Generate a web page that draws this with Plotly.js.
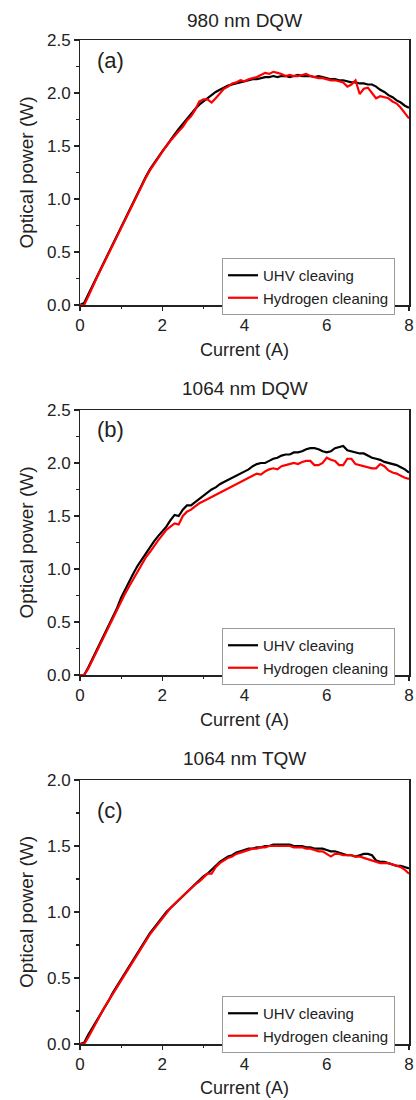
<!DOCTYPE html>
<html><head><meta charset="utf-8">
<script src="https://cdn.plot.ly/plotly-3.0.1.min.js"></script>
<style>html,body{margin:0;padding:0;background:#fff}#chart{width:416px;height:1100px}</style>
</head><body><div id="chart"></div>
<script>
const current = [0.0,0.1,0.2,0.3,0.4,0.5,0.6,0.7,0.8,0.9,1.0,1.1,1.2,1.3,1.4,1.5,1.6,1.7,1.8,1.9,
2.0,2.1,2.2,2.3,2.4,2.5,2.6,2.7,2.8,2.9,3.0,3.1,3.2,3.3,3.4,3.5,3.6,3.7,3.8,3.9,
4.0,4.1,4.2,4.3,4.4,4.5,4.6,4.7,4.8,4.9,5.0,5.1,5.2,5.3,5.4,5.5,5.6,5.7,5.8,5.9,
6.0,6.1,6.2,6.3,6.4,6.5,6.6,6.7,6.8,6.9,7.0,7.1,7.2,7.3,7.4,7.5,7.6,7.7,7.8,7.9,8.0];

const panelTitles = ['980 nm DQW', '1064 nm DQW', '1064 nm TQW'];
const panelLabels = ['(a)', '(b)', '(c)'];
const seriesNames = ['UHV cleaving', 'Hydrogen cleaning'];
const xTitle = 'Current (A)';
const yTitle = 'Optical power (W)';
const yMax = [2.5, 2.5, 2.0];

// (a) 980 nm DQW
const uhvA = [0.00,0.02,0.10,0.18,0.26,0.34,0.42,0.50,0.58,0.66,0.74,0.82,0.90,0.98,1.06,1.13,1.21,1.28,1.34,1.40,
1.45,1.50,1.56,1.61,1.66,1.71,1.76,1.80,1.85,1.89,1.92,1.95,1.98,2.01,2.03,2.05,2.07,2.08,2.09,2.10,
2.11,2.12,2.13,2.13,2.14,2.15,2.15,2.16,2.15,2.16,2.16,2.15,2.16,2.17,2.16,2.16,2.16,2.15,2.16,2.15,
2.14,2.13,2.13,2.12,2.12,2.11,2.10,2.10,2.09,2.09,2.08,2.08,2.06,2.03,2.01,1.98,1.96,1.93,1.91,1.88,1.86];
const h2A = [0.00,0.00,0.08,0.17,0.25,0.33,0.41,0.49,0.57,0.65,0.73,0.81,0.89,0.97,1.05,1.12,1.20,1.27,1.33,1.39,
1.45,1.50,1.55,1.60,1.64,1.68,1.74,1.78,1.84,1.92,1.94,1.94,1.91,1.95,2.00,2.04,2.06,2.09,2.10,2.12,
2.11,2.13,2.14,2.15,2.17,2.19,2.18,2.20,2.19,2.18,2.16,2.17,2.16,2.16,2.17,2.18,2.16,2.15,2.14,2.14,
2.13,2.12,2.12,2.11,2.10,2.06,2.08,2.12,1.99,2.04,2.05,2.00,1.95,1.97,1.96,1.95,1.92,1.90,1.86,1.81,1.76];

// (b) 1064 nm DQW
const uhvB = [0.00,0.00,0.07,0.15,0.23,0.31,0.39,0.47,0.55,0.63,0.73,0.81,0.89,0.96,1.03,1.09,1.15,1.21,1.26,1.31,
1.35,1.40,1.46,1.51,1.50,1.56,1.60,1.60,1.63,1.66,1.69,1.72,1.75,1.77,1.80,1.82,1.84,1.86,1.88,1.90,
1.92,1.94,1.97,1.99,2.00,2.00,2.02,2.04,2.05,2.07,2.08,2.08,2.10,2.10,2.11,2.13,2.14,2.14,2.13,2.11,
2.10,2.11,2.14,2.15,2.16,2.12,2.11,2.10,2.09,2.09,2.07,2.05,2.04,2.03,2.01,2.00,1.99,1.98,1.96,1.94,1.91];
const h2B = [0.00,0.00,0.06,0.14,0.22,0.30,0.38,0.46,0.54,0.61,0.69,0.77,0.84,0.91,0.98,1.04,1.11,1.16,1.22,1.27,
1.32,1.37,1.40,1.43,1.42,1.50,1.54,1.56,1.59,1.62,1.64,1.66,1.68,1.70,1.72,1.74,1.76,1.78,1.80,1.82,
1.84,1.86,1.88,1.90,1.89,1.92,1.94,1.95,1.94,1.97,1.98,1.99,2.00,1.99,2.01,2.02,2.02,1.98,1.98,2.00,
2.05,2.03,2.02,1.98,1.98,2.04,2.04,1.99,1.98,1.97,1.96,1.95,1.95,1.99,1.97,1.93,1.91,1.90,1.88,1.86,1.85];

// (c) 1064 nm TQW
const uhvC = [0.00,0.01,0.07,0.12,0.18,0.23,0.28,0.33,0.39,0.44,0.49,0.54,0.59,0.64,0.70,0.75,0.80,0.84,0.88,0.92,
0.96,1.00,1.03,1.06,1.09,1.12,1.15,1.18,1.21,1.24,1.27,1.29,1.32,1.35,1.38,1.40,1.42,1.43,1.45,1.46,
1.47,1.48,1.48,1.49,1.49,1.50,1.50,1.51,1.51,1.51,1.51,1.51,1.50,1.50,1.50,1.49,1.49,1.48,1.48,1.48,
1.47,1.46,1.46,1.45,1.44,1.43,1.43,1.42,1.43,1.44,1.44,1.43,1.39,1.38,1.38,1.37,1.36,1.35,1.35,1.34,1.33];
const h2C = [0.00,0.00,0.05,0.11,0.17,0.22,0.28,0.33,0.38,0.43,0.49,0.54,0.59,0.64,0.69,0.74,0.79,0.83,0.87,0.91,
0.95,0.99,1.03,1.06,1.09,1.12,1.15,1.18,1.21,1.23,1.26,1.29,1.29,1.34,1.37,1.39,1.41,1.42,1.44,1.45,
1.46,1.47,1.48,1.48,1.49,1.49,1.50,1.50,1.50,1.50,1.50,1.50,1.49,1.49,1.49,1.48,1.48,1.47,1.46,1.46,
1.44,1.42,1.44,1.44,1.43,1.43,1.43,1.42,1.42,1.41,1.40,1.39,1.38,1.37,1.37,1.37,1.36,1.35,1.34,1.32,1.29];

const panelSeries = [[uhvA, h2A], [uhvB, h2B], [uhvC, h2C]];
const seriesColors = ['#000000', '#ff0000'];

// geometry (pixels in a 416x1100 figure)
const W = 416, H = 1100;
const xDom = [80 / W, 409 / W];
const plotTops = [40, 410, 780];
const plotBots = [305, 675, 1044];
const legendTops = [258, 628, 996];
const titleY = [20, 388, 758];
const xTitleY = [350, 720, 1088];
const labelY = [61, 429, 810];
const py = p => 1 - p / H;

const FONT = 'Arial, "Liberation Sans", sans-serif';
const TXT = '#222222';
const AX = '#222222';

const data = [];
const layout = {
  width: W, height: H,
  margin: {l: 0, r: 0, t: 0, b: 0},
  paper_bgcolor: '#ffffff', plot_bgcolor: '#ffffff',
  font: {family: FONT, color: TXT, size: 17},
  showlegend: true,
  annotations: []
};

for (let i = 0; i < 3; i++) {
  const n = i + 1;
  const xs = n === 1 ? '' : String(n);
  const xName = 'x' + xs, yName = 'y' + xs;
  const legName = n === 1 ? 'legend' : 'legend' + n;
  for (let s = 0; s < 2; s++) {
    data.push({
      type: 'scatter', mode: 'lines',
      x: current, y: panelSeries[i][s],
      name: seriesNames[s],
      line: {color: seriesColors[s], width: 2.2},
      xaxis: xName, yaxis: yName,
      legend: legName,
      hoverinfo: 'skip'
    });
  }
  const yDom = [py(plotBots[i]), py(plotTops[i])];
  layout['xaxis' + xs] = {
    domain: xDom, anchor: yName, range: [0, 8], dtick: 2, tick0: 0,
    showgrid: false, zeroline: false,
    showline: true, linecolor: AX, linewidth: 1.5, mirror: true,
    ticks: 'outside', ticklen: 4.5, tickwidth: 1.3, tickcolor: AX,
    minor: {dtick: 1, ticks: 'outside', ticklen: 2.5, tickwidth: 1.2, tickcolor: AX, showgrid: false},
    tickfont: {family: FONT, size: 17, color: TXT},
    fixedrange: true
  };
  layout['yaxis' + xs] = {
    domain: yDom, anchor: xName, range: [0, yMax[i]], dtick: 0.5, tick0: 0,
    tickformat: '.1f',
    showgrid: false, zeroline: false,
    showline: true, linecolor: AX, linewidth: 1.5, mirror: true,
    ticks: 'outside', ticklen: 4.5, tickwidth: 1.3, tickcolor: AX,
    minor: {dtick: 0.25, ticks: 'outside', ticklen: 2.5, tickwidth: 1.2, tickcolor: AX, showgrid: false},
    tickfont: {family: FONT, size: 17, color: TXT},
    fixedrange: true
  };
  // inside ticks on top and right edges
  const xo = String(n + 3), yo = String(n + 3);
  layout['xaxis' + xo] = {
    overlaying: xName, anchor: yName, side: 'top', range: [0, 8], dtick: 2, tick0: 0,
    showgrid: false, zeroline: false, showline: false, showticklabels: false,
    ticks: 'inside', ticklen: 4.5, tickwidth: 1.3, tickcolor: AX,
    minor: {dtick: 1, ticks: 'inside', ticklen: 2.5, tickwidth: 1.2, tickcolor: AX, showgrid: false},
    fixedrange: true
  };
  layout['yaxis' + yo] = {
    overlaying: yName, anchor: xName, side: 'right', range: [0, yMax[i]], dtick: 0.5, tick0: 0,
    showgrid: false, zeroline: false, showline: false, showticklabels: false,
    ticks: 'inside', ticklen: 4.5, tickwidth: 1.3, tickcolor: AX,
    minor: {dtick: 0.25, ticks: 'inside', ticklen: 2.5, tickwidth: 1.2, tickcolor: AX, showgrid: false},
    fixedrange: true
  };
  layout[legName] = {
    x: 222 / W, xanchor: 'left', y: py(legendTops[i]), yanchor: 'top',
    xref: 'paper', yref: 'paper',
    bgcolor: '#ffffff', bordercolor: '#9a9a9a', borderwidth: 1,
    font: {family: FONT, size: 15, color: TXT},
    tracegroupgap: 0, itemwidth: 30
  };
  layout.annotations.push(
    {text: panelTitles[i], xref: 'paper', yref: 'paper', x: 244.5 / W, y: py(titleY[i]),
     xanchor: 'center', yanchor: 'middle', showarrow: false, font: {family: FONT, size: 19, color: TXT}},
    {text: panelLabels[i], xref: 'paper', yref: 'paper', x: 110 / W, y: py(labelY[i]),
     xanchor: 'center', yanchor: 'middle', showarrow: false, font: {family: FONT, size: 22, color: TXT}},
    {text: xTitle, xref: 'paper', yref: 'paper', x: 244.5 / W, y: py(xTitleY[i]),
     xanchor: 'center', yanchor: 'middle', showarrow: false, font: {family: FONT, size: 18, color: TXT}},
    {text: yTitle, xref: 'paper', yref: 'paper', x: 26 / W, y: py((plotTops[i] + plotBots[i]) / 2),
     xanchor: 'center', yanchor: 'middle', textangle: -90, showarrow: false, font: {family: FONT, size: 19, color: TXT}}
  );
}

Plotly.newPlot('chart', data, layout, {displayModeBar: false, staticPlot: true});
</script>
</body></html>
